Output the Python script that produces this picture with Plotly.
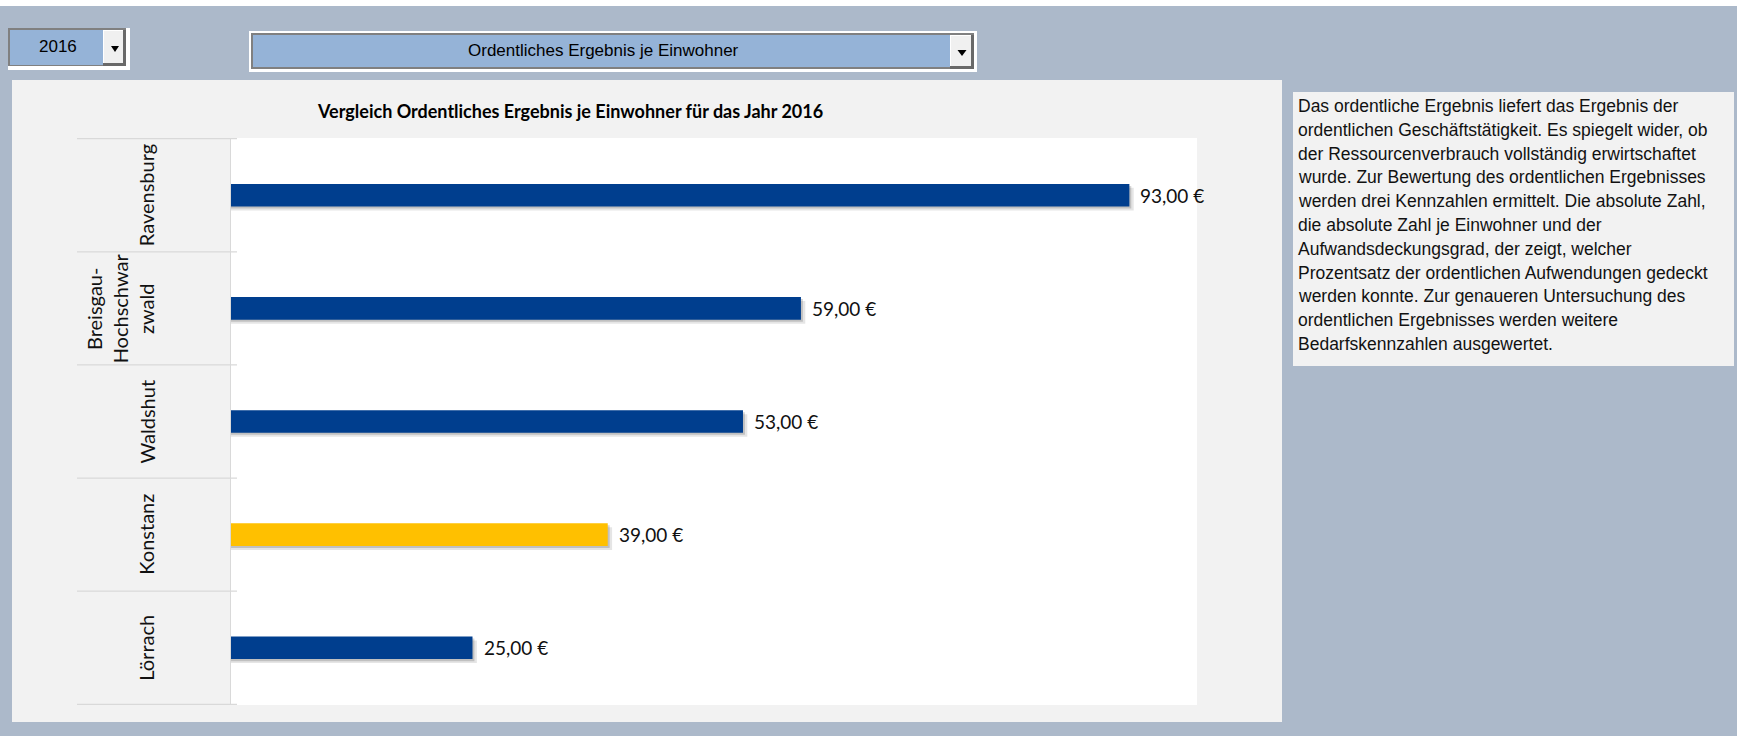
import plotly.graph_objects as go

W, H = 1737, 736

# ---------------- data ----------------
categories = ["Ravensburg", "Breisgau-Hochschwarzwald", "Waldshut", "Konstanz", "Lörrach"]
category_labels = ["Ravensburg", "Breisgau-<br>Hochschwar<br>zwald", "Waldshut", "Konstanz", "Lörrach"]
values = [93.0, 59.0, 53.0, 39.0, 25.0]
highlight = "Konstanz"
year = "2016"
indicator = "Ordentliches Ergebnis je Einwohner"
chart_title = "Vergleich Ordentliches Ergebnis je Einwohner für das Jahr 2016"
description_lines = [
    "Das ordentliche Ergebnis liefert das Ergebnis der",
    "ordentlichen Geschäftstätigkeit. Es spiegelt wider, ob",
    "der Ressourcenverbrauch vollständig erwirtschaftet",
    "wurde. Zur Bewertung des ordentlichen Ergebnisses",
    "werden drei Kennzahlen ermittelt. Die absolute Zahl,",
    "die absolute Zahl je Einwohner und der",
    "Aufwandsdeckungsgrad, der zeigt, welcher",
    "Prozentsatz der ordentlichen Aufwendungen gedeckt",
    "werden konnte. Zur genaueren Untersuchung des",
    "ordentlichen Ergebnisses werden weitere",
    "Bedarfskennzahlen ausgewertet.",
]

# ---------------- styling ----------------
BG = "#ACB9CA"
PANEL = "#F2F2F2"
BLUE = "#003E8E"
GOLD = "#FFC000"
DD_BLUE = "#95B3D7"
LINE = "#D9D9D9"
CHART_FONT = "Lato"
UI_FONT = "Liberation Sans"


def px(x):
    return x / W


def py(y):
    return 1 - y / H


def rect(x0, y0, x1, y1, fill, layer="below"):
    return dict(type="rect", xref="paper", yref="paper",
                x0=px(x0), x1=px(x1), y0=py(y1), y1=py(y0),
                fillcolor=fill, line_width=0, layer=layer)


def tri(xc, y0, w, h):
    path = "M {a},{b} L {c},{b} L {d},{e} Z".format(
        a=px(xc - w / 2), b=py(y0), c=px(xc + w / 2), d=px(xc), e=py(y0 + h))
    return dict(type="path", xref="paper", yref="paper", path=path,
                fillcolor="black", line_width=0, layer="above")


colors = [GOLD if c == highlight else BLUE for c in categories]
labels = ["{:.2f}".format(v).replace(".", ",") + " €" for v in values]

fig = go.Figure()
# soft drop shadow
fig.add_trace(go.Bar(y=categories, x=[v + 0.45 for v in values], orientation="h",
                     width=0.2, offset=-0.1 + 0.035, marker_color="rgba(0,0,0,0.10)",
                     marker_line_width=0, hoverinfo="skip", showlegend=False))
fig.add_trace(go.Bar(y=categories, x=[v + 0.2 for v in values], orientation="h",
                     width=0.2, offset=-0.1 + 0.018, marker_color="rgba(0,0,0,0.16)",
                     marker_line_width=0, hoverinfo="skip", showlegend=False))
fig.add_trace(go.Bar(y=categories, x=values, orientation="h", width=0.2, offset=-0.1,
                     marker_color=colors, marker_line_width=0, showlegend=False))

shapes = [
    rect(0, 0, W, 6, "white"),
    # chart panel
    rect(12, 80, 1282, 722, PANEL),
    rect(231, 138, 1197, 705, "white"),
    # description box
    rect(1293, 92, 1734, 366, PANEL),
    # year dropdown
    rect(8, 28, 130, 70, "white"),
    rect(8, 28, 126, 66, "#808080"),
    rect(10, 30, 103, 65, DD_BLUE),
    rect(103, 30, 126, 66, "#696969"),
    rect(103, 30, 123, 63, "white"),
    rect(104, 31, 123, 63, "#F0F0F0"),
    tri(115, 46, 8, 6),
    # indicator dropdown
    rect(249, 31, 977, 72, "white"),
    rect(251, 33, 974, 69, "#808080"),
    rect(253, 35, 950, 67, DD_BLUE),
    rect(950, 35, 974, 69, "#696969"),
    rect(950, 35, 971, 66, "white"),
    rect(951, 36, 971, 66, "#F0F0F0"),
    tri(962, 50, 9, 6),
]
# separators between category rows
for i in range(len(categories) + 1):
    shapes.append(dict(type="line", xref="paper", yref="y",
                       x0=px(77), x1=px(237), y0=i - 0.5, y1=i - 0.5,
                       line=dict(color=LINE, width=1.3), layer="above"))

annotations = [
    dict(text=year, x=px(58), y=py(46), xref="paper", yref="paper", showarrow=False,
         xanchor="center", yanchor="middle",
         font=dict(family=UI_FONT, size=17, color="black")),
    dict(text=indicator, x=px(603), y=py(50), xref="paper", yref="paper", showarrow=False,
         xanchor="center", yanchor="middle",
         font=dict(family=UI_FONT, size=17, color="black")),
    dict(text="<b>" + chart_title + "</b>", x=px(570), y=py(111), xref="paper", yref="paper",
         xanchor="center", yanchor="middle",
         showarrow=False, font=dict(family=CHART_FONT, size=18, color="black")),
]
for cat, lab in zip(categories, category_labels):
    annotations.append(dict(text=lab, x=px(160), y=cat, xref="paper", yref="y",
                            xanchor="right", yanchor="middle", textangle=-90,
                            showarrow=False,
                            font=dict(family=CHART_FONT, size=20, color="#111111")))
for cat, v, lab in zip(categories, values, labels):
    annotations.append(dict(text=lab, x=v, y=cat, xref="x", yref="y", xanchor="left",
                            yanchor="middle", xshift=9, showarrow=False,
                            font=dict(family=CHART_FONT, size=19, color="#111111")))
for i, line in enumerate(description_lines):
    annotations.append(dict(text=line, x=px(1296), y=py(106 + i * 23.8), xref="paper",
                            yref="paper", xanchor="left", yanchor="middle", showarrow=False,
                            font=dict(family=UI_FONT, size=17.5, color="#111111")))

fig.update_layout(
    width=W, height=H,
    margin=dict(l=0, r=0, t=0, b=0),
    paper_bgcolor=BG,
    plot_bgcolor="white",
    barmode="overlay",
    showlegend=False,
    shapes=shapes,
    annotations=annotations,
    xaxis=dict(domain=[px(231), px(1197)], range=[0, 100], showgrid=False,
               zeroline=False, showticklabels=False, ticks=""),
    yaxis=dict(domain=[py(705), py(138)], categoryorder="array", categoryarray=categories,
               autorange="reversed", showgrid=False, zeroline=False,
               showticklabels=False, ticks="", showline=True, linecolor=LINE, linewidth=1),
)

fig.write_html("out.html", config={"displayModeBar": False},
               post_script="document.body.style.margin='0';document.body.style.overflow='hidden';")
